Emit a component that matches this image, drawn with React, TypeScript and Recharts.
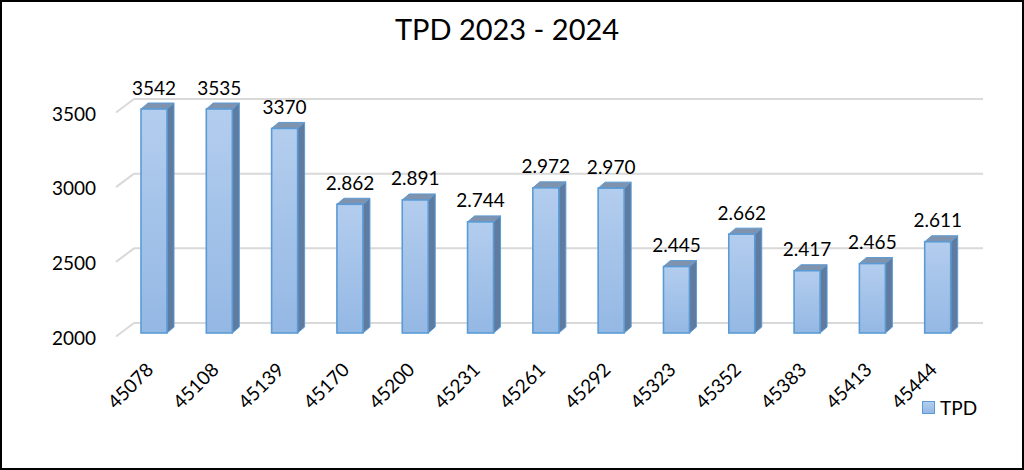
import React from "react";
import { BarChart, Bar, XAxis, YAxis, CartesianGrid, LabelList, Legend } from "recharts";

// TPD 2023 - 2024 · cột 3D kiểu Excel, trục Y cắt ở 3500 nên hai cột đầu bị chặn.

const CATEGORIES = ["45078", "45108", "45139", "45170", "45200", "45231", "45261", "45292", "45323", "45352", "45383", "45413", "45444"];
const TPD = [3542, 3535, 3370, 2862, 2891, 2744, 2972, 2970, 2445, 2662, 2417, 2465, 2611];
const LABELS = ["3542", "3535", "3370", "2.862", "2.891", "2.744", "2.972", "2.970", "2.445", "2.662", "2.417", "2.465", "2.611"];
const Y_TICKS = [2000, 2500, 3000, 3500];

const AXIS_MIN = 2000;
const AXIS_MAX = 3500;

const data = CATEGORIES.map((c, i) => ({
  label: c,
  tpd: Math.min(TPD[i], AXIS_MAX),
  text: LABELS[i],
}));

const FONT = "Lato, 'Open Sans', sans-serif";
const GRID = "#d9d9d9";
const EDGE = "#5b9bd5";
const DX = 7; // độ sâu cột
const DY = 6;

function Bar3D(props: any) {
  const { x, y, width, height } = props;
  if (!height || height <= 0) return null;
  const r = x + width;
  const b = y + height;
  return (
    <g>
      <polygon
        points={`${r},${y} ${r + DX},${y - DY} ${r + DX},${b - DY} ${r},${b}`}
        fill="#5f7ba0" stroke={EDGE} strokeWidth={1}
      />
      <polygon
        points={`${x},${y} ${x + DX},${y - DY} ${r + DX},${y - DY} ${r},${y}`}
        fill="#7f93ae" stroke={EDGE} strokeWidth={1}
      />
      <rect x={x} y={y} width={width} height={height} fill="url(#tpdFront)" stroke={EDGE} strokeWidth={1.6} />
    </g>
  );
}

function GridLine(p: any) {
  const y = p.y1;
  return (
    <g key={`gl-${p.index}`}>
      <line x1={p.x1 - 5} y1={y + 3.5} x2={p.x1 + 13} y2={y - 10} stroke={GRID} strokeWidth={2} />
      <line x1={p.x1 + 13} y1={y - 10} x2={p.x2 + 13} y2={y - 10} stroke={GRID} strokeWidth={2} />
    </g>
  );
}

function YTick(p: any) {
  return (
    <text x={96} y={p.y + 4} textAnchor="end" dominantBaseline="central" fontSize={19} fontFamily={FONT} fill="#000">
      {p.payload.value}
    </text>
  );
}

function XTick(p: any) {
  const ax = p.x + 1;
  const ay = 371;
  return (
    <text
      x={ax} y={ay} textAnchor="end" fontSize={19} fontFamily={FONT} fill="#000"
      transform={`rotate(-45, ${ax}, ${ay})`}
    >
      {p.payload.value}
    </text>
  );
}

function TopLabel(p: any) {
  const { x, y, width, value } = p;
  return (
    <text x={x + width / 2} y={y - 22} textAnchor="middle" dominantBaseline="central" fontSize={19} fontFamily={FONT} fill="#000">
      {value}
    </text>
  );
}

function LegendBox() {
  return (
    <div style={{ display: "flex", alignItems: "center", fontFamily: FONT, fontSize: 19, color: "#000" }}>
      <span
        style={{
          display: "inline-block", width: 11, height: 11, marginRight: 5,
          background: "linear-gradient(#b3cdee, #94b8e4)", border: `1.5px solid ${EDGE}`,
        }}
      />
      TPD
    </div>
  );
}

export default function App() {
  return (
    <div
      style={{
        position: "absolute", left: 0, top: 0, width: 1024, height: 470,
        border: "2px solid #000", boxSizing: "border-box", background: "#fff", overflow: "hidden",
      }}
    >
      <div
        style={{
          position: "absolute", left: -2, top: 9, width: 1014, textAlign: "center",
          fontFamily: FONT, fontSize: 29, lineHeight: "36px", color: "#000",
        }}
      >
        TPD 2023 - 2024
      </div>
      <div style={{ position: "absolute", left: -2, top: -2 }}>
        <BarChart width={1024} height={470} data={data} margin={{ top: 109, right: 54, left: 0, bottom: 0 }}>
          <defs>
            <linearGradient id="tpdFront" x1="0" y1="0" x2="0" y2="1">
              <stop offset="0%" stopColor="#b3cdee" />
              <stop offset="100%" stopColor="#94b8e4" />
            </linearGradient>
          </defs>
          <CartesianGrid vertical={false} horizontal={GridLine as any} />
          <XAxis dataKey="label" height={137} tick={XTick} tickLine={false} axisLine={false} interval={0} />
          <YAxis
            width={121} domain={[AXIS_MIN, AXIS_MAX]} ticks={Y_TICKS}
            tick={YTick} tickLine={false} axisLine={false}
          />
          <Legend
            layout="horizontal" verticalAlign="middle" align="center" content={() => <LegendBox />}
            wrapperStyle={{ position: "absolute", left: 922, top: 396, width: 80 }}
          />
          <Bar dataKey="tpd" name="TPD" barSize={26} shape={Bar3D} isAnimationActive={false}>
            <LabelList dataKey="text" content={TopLabel} />
          </Bar>
        </BarChart>
      </div>
    </div>
  );
}
